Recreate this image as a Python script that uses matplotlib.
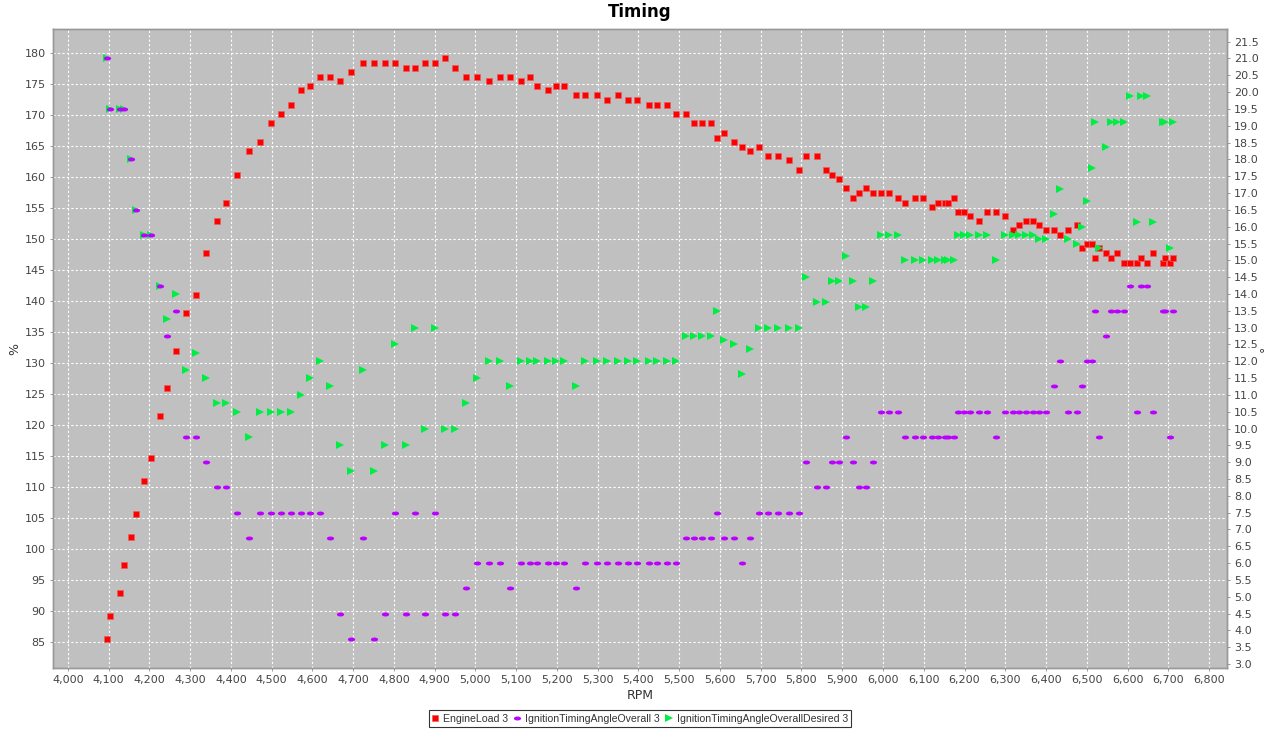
import numpy as np
import matplotlib
matplotlib.use("Agg")
import matplotlib.pyplot as plt
from matplotlib.path import Path
from matplotlib.ticker import FuncFormatter, MultipleLocator

rpm = [4096, 4104, 4127, 4139, 4155, 4168, 4186, 4204, 4226, 4244,
       4265, 4289, 4315, 4339, 4365, 4388, 4415, 4444, 4472, 4499,
       4523, 4548, 4572, 4595, 4620, 4644, 4667, 4696, 4725, 4752,
       4779, 4804, 4829, 4853, 4876, 4900, 4925, 4950, 4977, 5004,
       5033, 5060, 5084, 5112, 5133, 5152, 5178, 5197, 5218, 5246,
       5270, 5299, 5324, 5349, 5374, 5396, 5425, 5445, 5470, 5493,
       5516, 5537, 5557, 5577, 5592, 5610, 5634, 5653, 5673, 5695,
       5719, 5743, 5769, 5793, 5811, 5837, 5860, 5876, 5893, 5910,
       5926, 5941, 5959, 5976, 5995, 6014, 6037, 6055, 6078, 6098,
       6121, 6134, 6151, 6159, 6174, 6184, 6199, 6213, 6235, 6255,
       6278, 6299, 6318, 6334, 6350, 6367, 6383, 6399, 6420, 6435,
       6455, 6475, 6489, 6501, 6512, 6521, 6531, 6547, 6559, 6573,
       6592, 6606, 6623, 6632, 6648, 6663, 6686, 6692, 6704, 6712]

engine_load = [85.4, 89.2, 92.9, 97.4, 101.9, 105.7, 111.0, 114.7, 121.4, 125.9,
               131.9, 138.0, 140.9, 147.7, 152.9, 155.9, 160.4, 164.2, 165.7, 168.7,
               170.2, 171.7, 174.0, 174.7, 176.2, 176.2, 175.5, 177.0, 178.5, 178.5,
               178.5, 178.5, 177.7, 177.7, 178.5, 178.5, 179.2, 177.7, 176.2, 176.2,
               175.5, 176.2, 176.2, 175.5, 176.2, 174.7, 174.0, 174.7, 174.7, 173.2,
               173.2, 173.2, 172.5, 173.2, 172.5, 172.5, 171.7, 171.7, 171.7, 170.2,
               170.2, 168.7, 168.7, 168.7, 166.4, 167.2, 165.7, 164.9, 164.2, 164.9,
               163.4, 163.4, 162.7, 161.2, 163.4, 163.4, 161.2, 160.4, 159.7, 158.2,
               156.7, 157.4, 158.2, 157.4, 157.4, 157.4, 156.7, 155.9, 156.7, 156.7,
               155.2, 155.9, 155.9, 155.9, 156.7, 154.4, 154.4, 153.7, 152.9, 154.4,
               154.4, 153.7, 151.4, 152.2, 152.9, 152.9, 152.2, 151.4, 151.4, 150.7,
               151.4, 152.2, 148.5, 149.2, 149.2, 147.0, 148.5, 147.7, 147.0, 147.7,
               146.2, 146.2, 146.2, 147.0, 146.2, 147.7, 146.2, 147.0, 146.2, 147.0]

timing_actual = [21.0, 19.5, 19.5, 19.5, 18.0, 16.5, 15.75, 15.75, 14.25, 12.75,
                 13.5, 9.75, 9.75, 9.0, 8.25, 8.25, 7.5, 6.75, 7.5, 7.5,
                 7.5, 7.5, 7.5, 7.5, 7.5, 6.75, 4.5, 3.75, 6.75, 3.75,
                 4.5, 7.5, 4.5, 7.5, 4.5, 7.5, 4.5, 4.5, 5.25, 6.0,
                 6.0, 6.0, 5.25, 6.0, 6.0, 6.0, 6.0, 6.0, 6.0, 5.25,
                 6.0, 6.0, 6.0, 6.0, 6.0, 6.0, 6.0, 6.0, 6.0, 6.0,
                 6.75, 6.75, 6.75, 6.75, 7.5, 6.75, 6.75, 6.0, 6.75, 7.5,
                 7.5, 7.5, 7.5, 7.5, 9.0, 8.25, 8.25, 9.0, 9.0, 9.75,
                 9.0, 8.25, 8.25, 9.0, 10.5, 10.5, 10.5, 9.75, 9.75, 9.75,
                 9.75, 9.75, 9.75, 9.75, 9.75, 10.5, 10.5, 10.5, 10.5, 10.5,
                 9.75, 10.5, 10.5, 10.5, 10.5, 10.5, 10.5, 10.5, 11.25, 12.0,
                 10.5, 10.5, 11.25, 12.0, 12.0, 13.5, 9.75, 12.75, 13.5, 13.5,
                 13.5, 14.25, 10.5, 14.25, 14.25, 10.5, 13.5, 13.5, 9.75, 13.5]

timing_desired = [21.0, 19.5, 19.5, 19.5, 18.0, 16.5, 15.75, 15.75, 14.25, 13.25,
                  14.0, 11.75, 12.25, 11.5, 10.75, 10.75, 10.5, 9.75, 10.5, 10.5,
                  10.5, 10.5, 11.0, 11.5, 12.0, 11.25, 9.5, 8.75, 11.75, 8.75,
                  9.5, 12.5, 9.5, 13.0, 10.0, 13.0, 10.0, 10.0, 10.75, 11.5,
                  12.0, 12.0, 11.25, 12.0, 12.0, 12.0, 12.0, 12.0, 12.0, 11.25,
                  12.0, 12.0, 12.0, 12.0, 12.0, 12.0, 12.0, 12.0, 12.0, 12.0,
                  12.75, 12.75, 12.75, 12.75, 13.5, 12.625, 12.5, 11.625, 12.375, 13.0,
                  13.0, 13.0, 13.0, 13.0, 14.5, 13.75, 13.75, 14.375, 14.375, 15.125,
                  14.375, 13.625, 13.625, 14.375, 15.75, 15.75, 15.75, 15.0, 15.0, 15.0,
                  15.0, 15.0, 15.0, 15.0, 15.0, 15.75, 15.75, 15.75, 15.75, 15.75,
                  15.0, 15.75, 15.75, 15.75, 15.75, 15.75, 15.625, 15.625, 16.375, 17.125,
                  15.625, 15.5, 16.0, 16.75, 17.75, 19.125, 15.375, 18.375, 19.125, 19.125,
                  19.125, 19.875, 16.125, 19.875, 19.875, 16.125, 19.125, 19.125, 15.375, 19.125]

series_names = ["EngineLoad 3", "IgnitionTimingAngleOverall 3", "IgnitionTimingAngleOverallDesired 3"]

plt.rcParams['font.family'] = ['DejaVu Sans']

fig = plt.figure(figsize=(12.8, 7.3), dpi=100)
W, H = 1280, 730
left, right, top, bottom = 52.7, 1227, 29, 668
ax = fig.add_axes([left / W, (H - bottom) / H, (right - left) / W, (bottom - top) / H])
ax.set_facecolor('#C0C0C0')
ax2 = ax.twinx()
ax2.patch.set_visible(False)

# ellipse marker
circ = Path.unit_circle()
ell = Path(circ.vertices * np.array([1.0, 0.55]), circ.codes)

grey_txt = '#444444'
h_load, = ax.plot(rpm, engine_load, linestyle='none', marker='s', markersize=5.0,
                  color='#FF0000', markeredgewidth=0.5, markeredgecolor='#E86060',
                  label=series_names[0], zorder=5)
h_des, = ax2.plot(rpm, timing_desired, linestyle='none', marker='>', markersize=6.2,
                  color='#00EE44', markeredgewidth=0, label=series_names[2], zorder=3)
h_act, = ax2.plot(rpm, timing_actual, linestyle='none', marker=ell, markersize=5.2,
                  color='#BB00FF', markeredgewidth=0, label=series_names[1], zorder=4)

ax.set_xlim(3963, 6844)
ax.set_ylim(80.76, 183.92)
ax2.set_ylim(2.88, 21.877)

ax.xaxis.set_major_locator(MultipleLocator(100))
ax.yaxis.set_major_locator(MultipleLocator(5))
ax2.yaxis.set_major_locator(MultipleLocator(0.5))
ax.xaxis.set_major_formatter(FuncFormatter(lambda v, p: f"{int(round(v)):,}"))
ax.yaxis.set_major_formatter(FuncFormatter(lambda v, p: f"{int(round(v))}"))
ax2.yaxis.set_major_formatter(FuncFormatter(lambda v, p: f"{v:.1f}"))

for a in (ax, ax2):
    a.tick_params(axis='both', labelsize=8, colors='#888888', labelcolor=grey_txt,
                  length=2, width=0.6, pad=3)
    for s in a.spines.values():
        s.set_color('#999999')
        s.set_linewidth(1.0)

ax.grid(True, which='major', color='white', linestyle=(0, (2, 2)), linewidth=0.8)
ax.set_axisbelow(True)

ax.set_xlabel('RPM', fontsize=9, color='#333333', labelpad=3)
yc = 1 - ((top + bottom) / 2) / H
fig.text(15 / W, yc, '%', rotation=90, ha='center', va='center', fontsize=9, color='#333333')
fig.text(1265 / W, yc, '°', rotation=90, ha='center', va='center', fontsize=9, color='#333333')

fig.text(0.5, 1 - 12 / H, 'Timing', ha='center', va='center', fontsize=12, fontweight='bold')

leg = fig.legend([h_load, h_act, h_des], series_names, loc='center',
                 bbox_to_anchor=(0.5, (H - 718.5) / H),
                 ncol=3, frameon=True, fancybox=False, handlelength=0.7,
                 handletextpad=0.4, columnspacing=0.5, borderpad=0.3, borderaxespad=0,
                 prop={'family': 'Liberation Sans', 'size': 7.6})
for t in leg.get_texts():
    t.set_color('#333333')
leg.get_frame().set_edgecolor('black')
leg.get_frame().set_linewidth(0.8)

fig.savefig('out.png', dpi=100, facecolor='white')
